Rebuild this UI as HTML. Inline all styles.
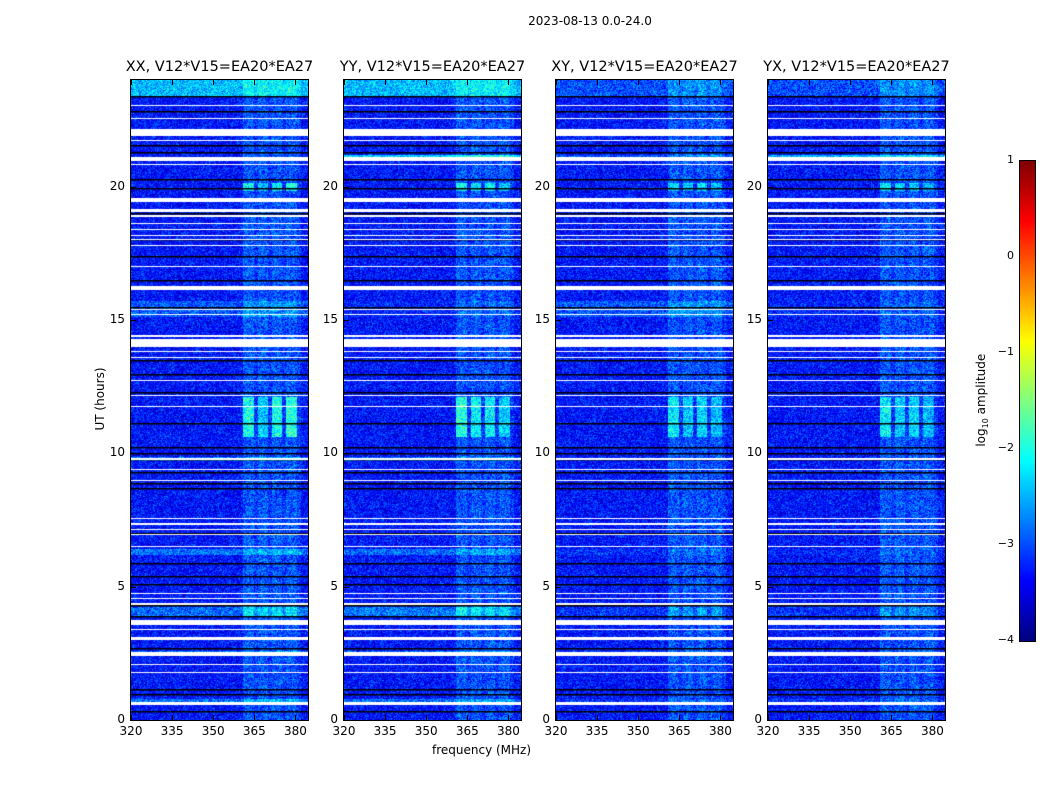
<!DOCTYPE html>
<html><head><meta charset="utf-8">
<style>
body{margin:0;background:#fff;width:1050px;height:800px;overflow:hidden;font-family:"DejaVu Sans","Liberation Sans",sans-serif;}
#root{position:relative;width:1050px;height:800px;}
.t{position:absolute;color:#000;white-space:nowrap;}
canvas{position:absolute;}
</style></head>
<body>
<div id="root">
<div class="t" style="left:0;width:1180px;text-align:center;top:14px;font-size:12px;">2023-08-13 0.0-24.0</div>
<div class="t" style="left:432px;top:743px;font-size:12px;">frequency (MHz)</div>
<div class="t" style="left:40px;top:392px;font-size:12px;transform:rotate(-90deg);transform-origin:center;width:120px;text-align:center;">UT (hours)</div>
<canvas id="cb" width="15" height="480" style="left:1019px;top:160px;border:1px solid #000;"></canvas>
<div class="t" style="left:922px;top:392px;font-size:12px;transform:rotate(-90deg);width:120px;text-align:center;">log<sub style="font-size:8px">10</sub> amplitude</div>
</div>
<script>
const panelTitles=["XX, V12*V15=EA20*EA27","YY, V12*V15=EA20*EA27","XY, V12*V15=EA20*EA27","YX, V12*V15=EA20*EA27"];
const panelLefts=[131,344,556,768];
const xTicks=[320,335,350,365,380];
const yTicks=[0,5,10,15,20];
const cbTicks=[1,0,-1,-2,-3,-4];
// flagged (white) time ranges in hours [start,end]
const flagStart=[23.03,22.54,21.9,21.72,20.98,20.82,19.43,19.05,18.88,18.6,18.38,18.16,18.0,17.78,17.0,16.13,15.37,15.17,14.38,14.0,13.8,13.57,12.72,12.15,11.72,9.75,9.36,8.95,7.52,7.33,7.12,6.93,6.49,4.74,4.52,4.33,3.55,3.36,3.0,2.4,2.07,1.75,0.55];
const flagEnd=  [23.07,22.58,22.15,21.76,21.1,20.86,19.58,19.18,18.92,18.64,18.42,18.2,18.04,17.82,17.04,16.28,15.41,15.21,14.42,14.28,13.84,13.61,12.76,12.19,11.76,9.82,9.4,9.0,7.56,7.37,7.16,6.97,6.53,4.78,4.56,4.37,3.74,3.4,3.1,2.55,2.11,1.79,0.68];
// black boundary lines in hours
const blackLines=[23.4,22.85,22.0,21.55,21.3,20.3,19.95,19.0,18.05,17.4,16.5,16.2,15.5,14.15,13.5,12.98,12.3,11.15,10.25,10.0,9.8,9.3,8.9,8.7,7.0,5.9,5.4,5.1,4.3,3.9,2.7,1.15,0.98,0.35];
// row brightness boosts (log10 units) per panel: [start,end,boost]
const rowStart=[23.4,9.7,6.2,3.85,2.45,0.6,15.1,20.95];
const rowEnd=  [24.0,9.85,6.4,4.25,2.6,0.8,15.7,21.2];
const boostXX=[0.85,0.55,0.5,0.45,0.45,0.5,0.35,0.0];
const boostYY=[0.85,0.45,0.45,0.5,0.4,0.45,0.1,1.0];
const boostXY=[0.3,0.1,0.15,0.15,0.15,0.15,0.35,0.3];
const boostYX=[0.3,0.1,0.1,0.15,0.1,0.15,0.1,0.8];
const boosts=[boostXX,boostYY,boostXY,boostYX];
// RFI sub-bands (MHz) and strong episode strengths per panel
const bandLo=[361,366.5,371.5,376.5];
const bandHi=[365,370,375,380.5];
const burstXX=[0.9,0.6,0.9,1.0];
const burstYY=[1.0,0.8,0.8,0.6];
const burstXY=[0.75,0.55,0.65,0.5];
const burstYX=[0.75,0.6,0.65,0.45];
const bursts=[burstXX,burstYY,burstXY,burstYX];
const baseLevel=-3.3;

const W=177,H=640,T=80;
const fMin=320,fMax=384.6,hMin=0,hMax=24;
const fx=f=>(f-fMin)/(fMax-fMin)*W;
const hy=h=>H-(h-hMin)/(hMax-hMin)*H;
function jet(t){t=Math.max(0,Math.min(1,t));const c=v=>Math.max(0,Math.min(1,v));
return [c(1.5-Math.abs(4*t-3))*255,c(1.5-Math.abs(4*t-2))*255,c(1.5-Math.abs(4*t-1))*255];}
function hash(x,y,s){let n=x*374761393+y*668265263+s*2147483647;n=(n^(n>>>13))*1274126177;n=n^(n>>>16);return ((n>>>0)%10000)/10000;}
const root=document.getElementById('root');
panelTitles.forEach((title,p)=>{
  const L=panelLefts[p];
  const cv=document.createElement('canvas');cv.width=W;cv.height=H;
  cv.style.left=L+'px';cv.style.top=T+'px';
  
  
  root.appendChild(cv);
  const ctx=cv.getContext('2d');const img=ctx.createImageData(W,H);
  const bb=boosts[p],bu=bursts[p];
  for(let y=0;y<H;y++){
    const h=hMax-(y+0.5)/H*(hMax-hMin);
    let rb=0;for(let i=0;i<rowStart.length;i++) if(h>=rowStart[i]&&h<=rowEnd[i]) rb=Math.max(rb,bb[i]);
    const burst=(h>10.6&&h<12.1)?1:(h>19.85&&h<20.15)?0.9:(h>3.9&&h<4.3)?0.3:0;
    for(let x=0;x<W;x++){
      const f=fMin+(x+0.5)/W*(fMax-fMin);
      let v=baseLevel+rb+(hash(x,y,p)-0.5)*0.85+(hash(x>>1,y>>1,p+7)-0.5)*0.3;
      if(f>361&&f<382){v+=0.2;for(let b=0;b<bandLo.length;b++) if(f>=bandLo[b]&&f<=bandHi[b]){v+=0.15+burst*bu[b]*(0.75+0.5*hash(x,y,p+3));}}
      const c=jet((v+4)/5);const k=(y*W+x)*4;
      img.data[k]=c[0];img.data[k+1]=c[1];img.data[k+2]=c[2];img.data[k+3]=255;
    }
  }
  ctx.putImageData(img,0,0);
  ctx.fillStyle='#000';
  blackLines.forEach(h=>ctx.fillRect(0,Math.round(hy(h)),W,1.5));
  ctx.fillStyle='#fff';
  flagStart.forEach((s,i)=>{const y1=Math.round(hy(flagEnd[i])),y2=Math.round(hy(s));ctx.fillRect(0,y1,W,Math.max(1,y2-y1));});
  const fr=document.createElement('div');
  
  
  fr.style.cssText=`position:absolute;left:${L-1}px;top:${T-1}px;width:${W}px;height:${H}px;border:1px solid #000;`;
  root.appendChild(fr);
  const tt=document.createElement('div');tt.className='t';tt.textContent=title;
  
  
  tt.style.cssText=`left:${L+W/2-110}px;width:220px;text-align:center;top:59px;font-size:14.5px;`;
  root.appendChild(tt);
  xTicks.forEach(v=>{
    const x=L+fx(v);
    const lb=document.createElement('div');lb.className='t';lb.textContent=v;
    
    
    lb.style.cssText=`left:${x-20}px;width:40px;text-align:center;top:724px;font-size:12px;`;
    root.appendChild(lb);
    ['top','bottom'].forEach(s=>{const tk=document.createElement('div');
      
      
      tk.style.cssText=`position:absolute;left:${x}px;width:1px;height:5px;background:#000;top:${s==='top'?T:T+H-5}px;`;root.appendChild(tk);});
  });
  yTicks.forEach(v=>{
    const y=T+hy(v);
    const lb=document.createElement('div');lb.className='t';lb.textContent=v;
    
    
    lb.style.cssText=`left:${L-40}px;width:34px;text-align:right;top:${y-8}px;font-size:12px;`;
    root.appendChild(lb);
    const tk=document.createElement('div');
    
    
    tk.style.cssText=`position:absolute;left:${L}px;width:5px;height:1px;background:#000;top:${y}px;`;root.appendChild(tk);
  });
});
// colorbar
const cb=document.getElementById('cb').getContext('2d');
for(let y=0;y<480;y++){const c=jet(1-(y+0.5)/480);cb.fillStyle=`rgb(${c[0]|0},${c[1]|0},${c[2]|0})`;cb.fillRect(0,y,15,1);}
cbTicks.forEach(v=>{
  const y=160+(1-v)/5*480;
  const lb=document.createElement('div');lb.className='t';lb.textContent=v<0?'\u2212'+(-v):String(v);
  
  
  lb.style.cssText=`left:${980}px;width:34px;text-align:right;top:${y-7}px;font-size:11px;`;
  root.appendChild(lb);
});
</script>
</body></html>
